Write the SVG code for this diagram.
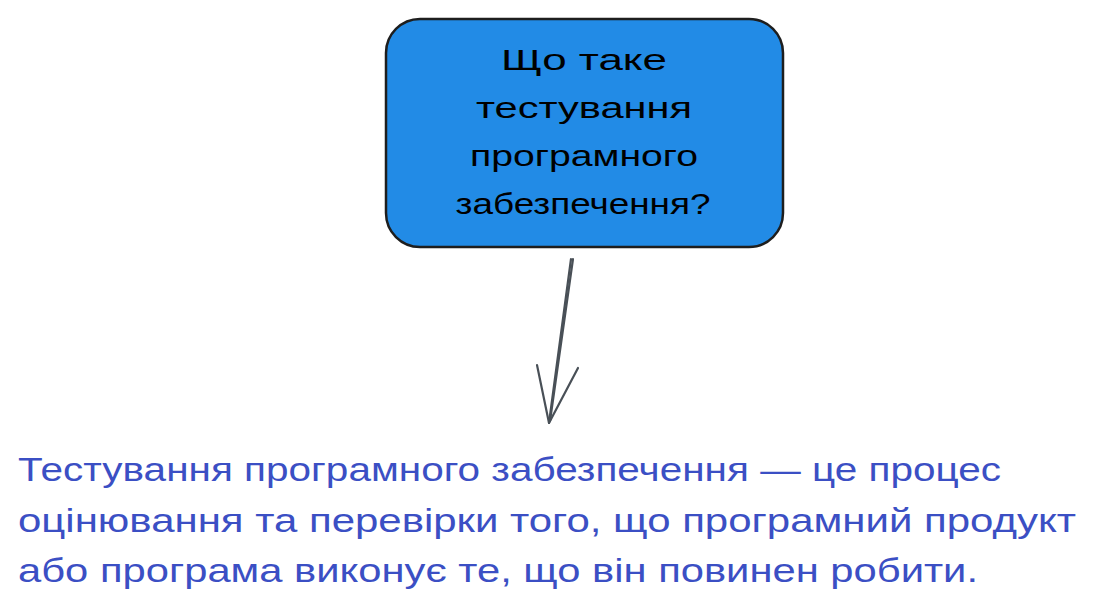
<svg xmlns="http://www.w3.org/2000/svg" width="1118" height="612" viewBox="0 0 1118 612">
  <defs>
    <style>
      .box { fill: #228be6; stroke: #1e1e1e; stroke-width: 2.5; }
      .boxtxt { font-family: "Liberation Sans", "DejaVu Sans", sans-serif; font-size: 30px; fill: #000000; text-anchor: middle; }
      .body { font-family: "Liberation Sans", "DejaVu Sans", sans-serif; font-size: 34px; fill: #3b4fc4; }
      .conn { fill: none; stroke: #495057; stroke-width: 2.2; stroke-linecap: round; stroke-linejoin: round; }
    </style>
  </defs>
  <rect width="1118" height="612" fill="#ffffff"/>

  <g id="node-question">
    <rect class="box" x="386" y="19" width="397" height="228" rx="34" ry="34"/>
    <text class="boxtxt" x="584" y="70" textLength="166" lengthAdjust="spacingAndGlyphs">Що таке</text>
    <text class="boxtxt" x="584" y="118" textLength="216" lengthAdjust="spacingAndGlyphs">тестування</text>
    <text class="boxtxt" x="584" y="166" textLength="228" lengthAdjust="spacingAndGlyphs">програмного</text>
    <text class="boxtxt" x="583" y="214" textLength="255" lengthAdjust="spacingAndGlyphs">забезпечення?</text>
  </g>

  <g id="connectors">
    <path class="conn" d="M571 259 L549 423"/>
    <path class="conn" d="M573 259 L550 421"/>
    <path class="conn" d="M537 365 L549 423 L578 368"/>
  </g>

  <g id="node-answer">
    <text class="body" x="18" y="481" textLength="983" lengthAdjust="spacingAndGlyphs">Тестування програмного забезпечення — це процес</text>
    <text class="body" x="18" y="532" textLength="1058" lengthAdjust="spacingAndGlyphs">оцінювання та перевірки того, що програмний продукт</text>
    <text class="body" x="18" y="582" textLength="960" lengthAdjust="spacingAndGlyphs">або програма виконує те, що він повинен робити.</text>
  </g>
</svg>
